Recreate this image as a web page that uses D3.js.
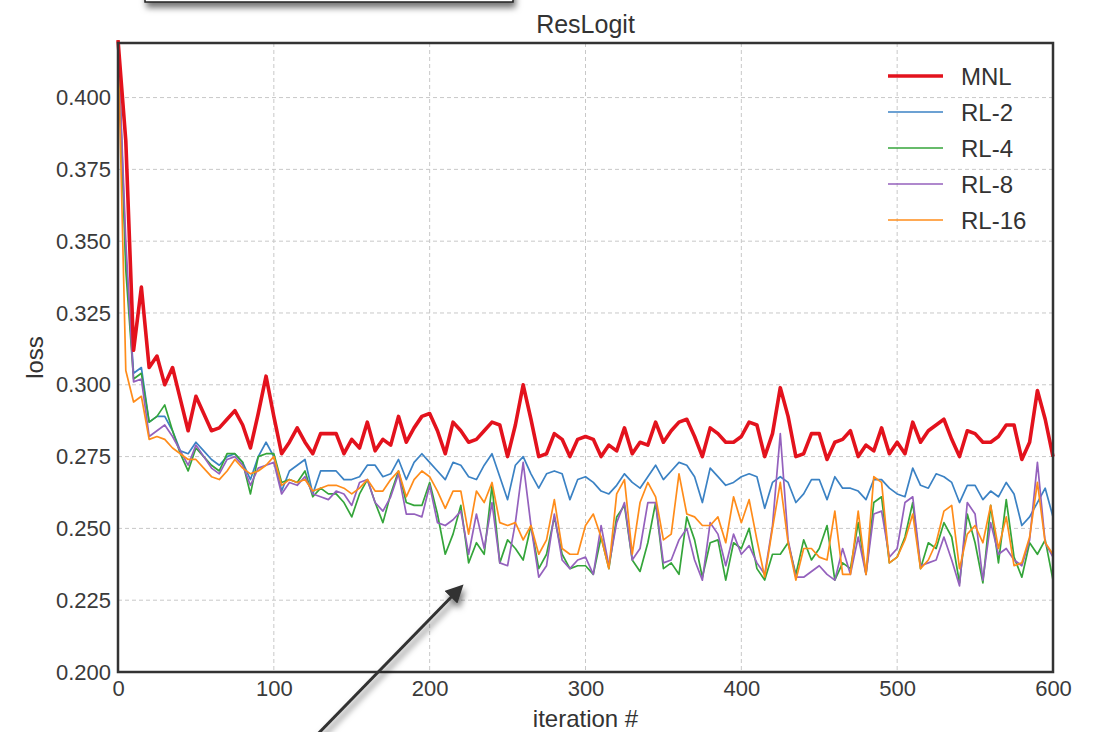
<!DOCTYPE html>
<html>
<head>
<meta charset="utf-8">
<script src="https://cdn.jsdelivr.net/npm/d3@7"></script>
<style>
  body { margin: 0; background: #fff; }
  svg { display: block; font-family: "Liberation Sans", Arial, sans-serif; }
  .grid line { stroke: #c8c8c8; stroke-dasharray: 4,3; stroke-width: 1; }
  .axis text { fill: #3a3a3a; font-size: 22px; }
</style>
</head>
<body>
<div id="chart"></div>
<script>
// iterations sampled every 5 steps
const iterations = d3.range(0, 601, 5);

const seriesNames = ["MNL", "RL-2", "RL-4", "RL-8", "RL-16"];
const seriesColors = ["#e3121d", "#3b82c4", "#34a53a", "#9461bd", "#ff8c1a"];

const mnl = [
  0.420, 0.385, 0.312, 0.334, 0.306, 0.310, 0.300, 0.306, 0.295, 0.284,
  0.296, 0.290, 0.284, 0.285, 0.288, 0.291, 0.286, 0.278, 0.290, 0.303,
  0.289, 0.276, 0.280, 0.285, 0.280, 0.276, 0.283, 0.283, 0.283, 0.276,
  0.281, 0.278, 0.287, 0.277, 0.281, 0.279, 0.289, 0.280, 0.285, 0.289,
  0.290, 0.284, 0.276, 0.287, 0.284, 0.280, 0.281, 0.284, 0.287, 0.286,
  0.275, 0.286, 0.300, 0.288, 0.275, 0.276, 0.283, 0.281, 0.275, 0.281,
  0.282, 0.281, 0.275, 0.279, 0.277, 0.285, 0.276, 0.280, 0.279, 0.287,
  0.280, 0.284, 0.287, 0.288, 0.282, 0.275, 0.285, 0.283, 0.280, 0.280,
  0.282, 0.287, 0.286, 0.275, 0.283, 0.299, 0.289, 0.275, 0.276, 0.283,
  0.283, 0.274, 0.280, 0.281, 0.284, 0.275, 0.279, 0.277, 0.285, 0.276,
  0.280, 0.276, 0.287, 0.280, 0.284, 0.286, 0.288, 0.281, 0.275, 0.284,
  0.283, 0.280, 0.280, 0.282, 0.286, 0.286, 0.274, 0.280, 0.298, 0.288,
  0.275
];

const rl2 = [
  0.420, 0.345, 0.304, 0.306, 0.287, 0.289, 0.289, 0.284, 0.277, 0.276,
  0.280, 0.277, 0.274, 0.272, 0.275, 0.276, 0.273, 0.267, 0.275, 0.280,
  0.275, 0.263, 0.270, 0.272, 0.274, 0.262, 0.270, 0.270, 0.270, 0.267,
  0.267, 0.268, 0.272, 0.272, 0.268, 0.269, 0.274, 0.267, 0.273, 0.276,
  0.273, 0.270, 0.267, 0.273, 0.272, 0.268, 0.267, 0.272, 0.276, 0.268,
  0.260, 0.272, 0.275, 0.269, 0.264, 0.269, 0.270, 0.269, 0.260, 0.267,
  0.268, 0.266, 0.263, 0.262, 0.265, 0.269, 0.266, 0.264, 0.268, 0.272,
  0.267, 0.270, 0.273, 0.272, 0.268, 0.259, 0.271, 0.268, 0.265, 0.266,
  0.268, 0.269, 0.268, 0.257, 0.266, 0.268, 0.266, 0.259, 0.262, 0.267,
  0.267, 0.260, 0.268, 0.264, 0.264, 0.263, 0.260, 0.267, 0.267, 0.264,
  0.262, 0.261, 0.271, 0.265, 0.264, 0.269, 0.268, 0.266, 0.259, 0.265,
  0.265, 0.260, 0.263, 0.261, 0.266, 0.262, 0.251, 0.254, 0.259, 0.264,
  0.254
];

const rl4 = [
  0.420, 0.340, 0.302, 0.304, 0.287, 0.289, 0.293, 0.284, 0.276, 0.270,
  0.278, 0.275, 0.272, 0.270, 0.276, 0.276, 0.273, 0.262, 0.275, 0.276,
  0.276, 0.266, 0.267, 0.266, 0.270, 0.261, 0.264, 0.262, 0.262, 0.259,
  0.254, 0.262, 0.267, 0.259, 0.252, 0.262, 0.270, 0.259, 0.258, 0.258,
  0.266, 0.255, 0.241, 0.248, 0.258, 0.238, 0.245, 0.241, 0.265, 0.238,
  0.246, 0.243, 0.239, 0.251, 0.236, 0.241, 0.254, 0.241, 0.236, 0.237,
  0.237, 0.234, 0.247, 0.236, 0.254, 0.258, 0.239, 0.235, 0.245, 0.259,
  0.236, 0.238, 0.234, 0.254, 0.246, 0.233, 0.245, 0.246, 0.232, 0.245,
  0.243, 0.250, 0.236, 0.232, 0.241, 0.241, 0.245, 0.234, 0.246, 0.239,
  0.243, 0.251, 0.232, 0.238, 0.236, 0.252, 0.234, 0.259, 0.261, 0.238,
  0.240, 0.247, 0.259, 0.236, 0.245, 0.243, 0.252, 0.247, 0.231, 0.255,
  0.245, 0.231, 0.258, 0.238, 0.260, 0.240, 0.233, 0.245, 0.241, 0.246,
  0.232
];

const rl8 = [
  0.420, 0.350, 0.301, 0.302, 0.282, 0.284, 0.286, 0.282, 0.277, 0.272,
  0.279, 0.275, 0.271, 0.269, 0.274, 0.275, 0.272, 0.265, 0.271, 0.272,
  0.273, 0.262, 0.266, 0.265, 0.268, 0.262, 0.261, 0.260, 0.263, 0.262,
  0.258, 0.266, 0.267, 0.259, 0.256, 0.261, 0.269, 0.255, 0.255, 0.254,
  0.265, 0.252, 0.251, 0.253, 0.256, 0.241, 0.255, 0.243, 0.259, 0.238,
  0.237, 0.252, 0.273, 0.251, 0.233, 0.237, 0.255, 0.239, 0.236, 0.239,
  0.240, 0.234, 0.251, 0.237, 0.252, 0.259, 0.239, 0.243, 0.259, 0.259,
  0.238, 0.239, 0.246, 0.250, 0.239, 0.232, 0.252, 0.248, 0.237, 0.248,
  0.241, 0.244, 0.238, 0.234, 0.251, 0.283, 0.246, 0.233, 0.233, 0.235,
  0.237, 0.234, 0.232, 0.243, 0.234, 0.247, 0.234, 0.255, 0.256, 0.240,
  0.243, 0.259, 0.261, 0.237, 0.238, 0.239, 0.247, 0.239, 0.230, 0.259,
  0.255, 0.232, 0.252, 0.241, 0.243, 0.239, 0.237, 0.246, 0.273, 0.245,
  0.240
];

const rl16 = [
  0.420, 0.305, 0.294, 0.296, 0.281, 0.282, 0.281, 0.278, 0.276, 0.274,
  0.274, 0.271, 0.268, 0.267, 0.270, 0.274, 0.271, 0.269, 0.270, 0.272,
  0.275, 0.265, 0.267, 0.266, 0.267, 0.263, 0.264, 0.265, 0.265, 0.264,
  0.262, 0.264, 0.267, 0.263, 0.263, 0.267, 0.270, 0.261, 0.267, 0.270,
  0.268, 0.263, 0.257, 0.263, 0.263, 0.248, 0.263, 0.259, 0.266, 0.252,
  0.251, 0.252, 0.246, 0.251, 0.241, 0.246, 0.260, 0.243, 0.241, 0.241,
  0.251, 0.255, 0.247, 0.236, 0.262, 0.267, 0.241, 0.259, 0.266, 0.261,
  0.246, 0.248, 0.269, 0.255, 0.254, 0.251, 0.251, 0.254, 0.245, 0.261,
  0.252, 0.260, 0.246, 0.233, 0.250, 0.266, 0.245, 0.232, 0.243, 0.243,
  0.240, 0.239, 0.256, 0.234, 0.234, 0.256, 0.234, 0.268, 0.266, 0.238,
  0.240, 0.246, 0.255, 0.236, 0.239, 0.245, 0.256, 0.258, 0.236, 0.248,
  0.251, 0.245, 0.258, 0.243, 0.254, 0.237, 0.238, 0.247, 0.266, 0.245,
  0.241
];

const xTicks = [0, 100, 200, 300, 400, 500, 600];
const yTicks = [0.200, 0.225, 0.250, 0.275, 0.300, 0.325, 0.350, 0.375, 0.400];

const allSeries = [mnl, rl2, rl4, rl8, rl16];

const W = 1094, H = 732;
const margin = { top: 43, left: 118, right: 41, bottom: 60 };
const width = W - margin.left - margin.right;
const height = H - margin.top - margin.bottom;

const svg = d3.select("#chart").append("svg")
  .attr("width", W)
  .attr("height", H);

const defs = svg.append("defs");
const shadow = defs.append("filter").attr("id", "shadow")
  .attr("x", "-20%").attr("y", "-50%").attr("width", "140%").attr("height", "300%");
shadow.append("feDropShadow")
  .attr("dx", 2).attr("dy", 5).attr("stdDeviation", 3)
  .attr("flood-color", "#000").attr("flood-opacity", 0.55);

// box cut off at the top of the picture
svg.append("rect")
  .attr("x", 145).attr("y", -20)
  .attr("width", 368).attr("height", 22)
  .attr("fill", "#fff")
  .attr("stroke", "#222").attr("stroke-width", 1.5)
  .attr("filter", "url(#shadow)");

const xScale = d3.scaleLinear().domain([0, 600]).range([0, width]);
const yScale = d3.scaleLinear().domain([0.2, 0.419]).range([height, 0]);

const g = svg.append("g")
  .attr("transform", "translate(" + margin.left + "," + margin.top + ")");

// grid
g.append("g").attr("class", "grid")
  .selectAll("line.v").data(xTicks.slice(1, -1)).enter().append("line")
    .attr("x1", d => xScale(d)).attr("x2", d => xScale(d))
    .attr("y1", 0).attr("y2", height);
g.select(".grid")
  .selectAll("line.h").data(yTicks.slice(1)).enter().append("line")
    .attr("x1", 0).attr("x2", width)
    .attr("y1", d => yScale(d)).attr("y2", d => yScale(d));

// axes (labels only, no tick marks)
const xAxis = g.append("g").attr("class", "axis")
  .attr("transform", "translate(0," + height + ")")
  .call(d3.axisBottom(xScale).tickValues(xTicks).tickSize(0).tickPadding(8).tickFormat(d3.format("d")));
xAxis.select(".domain").remove();

const yAxis = g.append("g").attr("class", "axis")
  .call(d3.axisLeft(yScale).tickValues(yTicks).tickSize(0).tickPadding(7).tickFormat(d3.format(".3f")));
yAxis.select(".domain").remove();

// lines
const line = d3.line()
  .x((d, i) => xScale(iterations[i]))
  .y(d => yScale(d));

// draw thin series first, MNL on top
[1, 2, 3, 4, 0].forEach(k => {
  g.append("path")
    .datum(allSeries[k])
    .attr("fill", "none")
    .attr("stroke", seriesColors[k])
    .attr("stroke-width", k === 0 ? 3.6 : 1.7)
    .attr("stroke-linejoin", "round")
    .attr("d", line);
});

// frame
g.append("rect")
  .attr("x", 0).attr("y", 0)
  .attr("width", width).attr("height", height)
  .attr("fill", "none")
  .attr("stroke", "#333").attr("stroke-width", 2.5);

// legend
const legend = g.append("g").attr("transform", "translate(" + (888 - margin.left) + "," + (76 - margin.top) + ")");
seriesNames.forEach((name, i) => {
  const row = legend.append("g").attr("transform", "translate(0," + (i * 36) + ")");
  row.append("line")
    .attr("x1", 0).attr("x2", 55)
    .attr("stroke", seriesColors[i])
    .attr("stroke-width", i === 0 ? 3.6 : 1.7);
  row.append("text")
    .attr("x", 73).attr("y", 0)
    .attr("dy", "0.36em")
    .attr("fill", "#333")
    .style("font-size", "24px")
    .text(name);
});

// titles
svg.append("text")
  .attr("x", margin.left + width / 2).attr("y", 33)
  .attr("text-anchor", "middle")
  .attr("fill", "#333")
  .style("font-size", "25px")
  .text("ResLogit");

svg.append("text")
  .attr("x", margin.left + width / 2).attr("y", 727)
  .attr("text-anchor", "middle")
  .attr("fill", "#333")
  .style("font-size", "24px")
  .text("iteration #");

svg.append("text")
  .attr("transform", "translate(43," + (margin.top + height / 2) + ") rotate(-90)")
  .attr("text-anchor", "middle")
  .attr("fill", "#333")
  .style("font-size", "24px")
  .text("loss");

// annotation arrow
defs.append("marker").attr("id", "head")
  .attr("viewBox", "0 0 10 10").attr("refX", 8).attr("refY", 5)
  .attr("markerWidth", 6).attr("markerHeight", 6)
  .attr("orient", "auto")
  .append("path").attr("d", "M0,0 L10,5 L0,10 z").attr("fill", "#333");

svg.append("line")
  .attr("x1", 312).attr("y1", 740)
  .attr("x2", 461).attr("y2", 587)
  .attr("stroke", "#333").attr("stroke-width", 3)
  .attr("marker-end", "url(#head)")
  .attr("filter", "url(#shadow)");
</script>
</body>
</html>
